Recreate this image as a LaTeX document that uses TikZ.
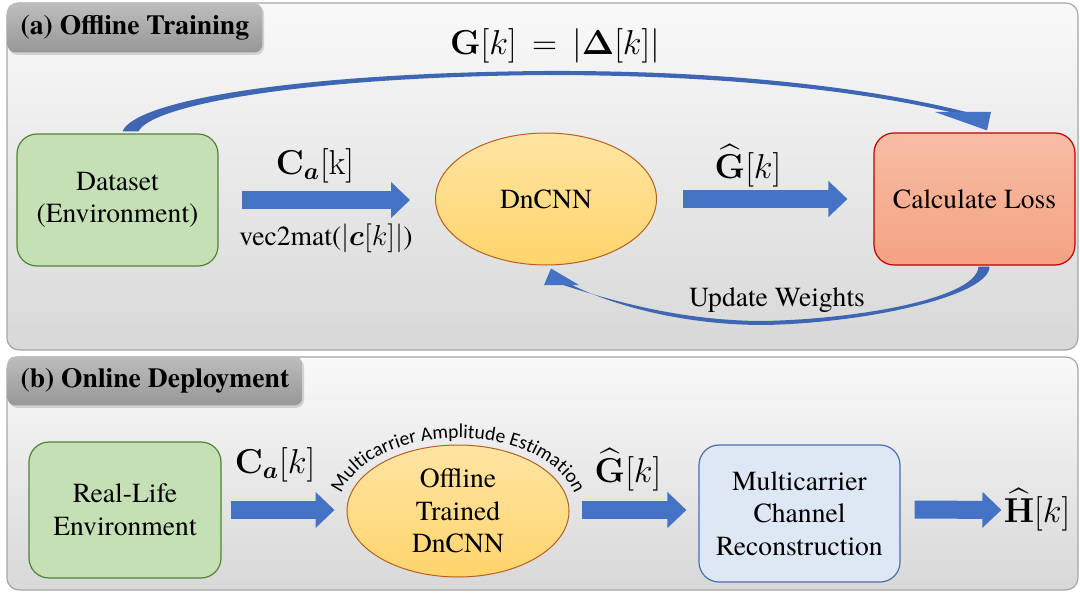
\documentclass[tikz,border=0pt]{standalone}
\usepackage{amsmath,bm}
\usepackage[no-math]{fontspec}
\setmainfont{texgyretermes}[Extension=.otf, UprightFont=*-regular, BoldFont=*-bold,
  ItalicFont=*-italic, BoldItalicFont=*-bolditalic]
\newfontfamily\arcfont{Carlito}
\usetikzlibrary{shapes.geometric,arrows.meta,calc,shadows,decorations.text}

\definecolor{paneltop}{HTML}{F9F9F9}
\definecolor{panelbot}{HTML}{D8D8D8}
\definecolor{panelline}{HTML}{A6A6A6}
\definecolor{tabtop}{HTML}{BDBDBD}
\definecolor{tabbot}{HTML}{979797}
\definecolor{envfill}{HTML}{C5E0B4}
\definecolor{envline}{HTML}{548235}
\definecolor{blobtop}{HTML}{FFE5A3}
\definecolor{blobbot}{HTML}{FFD46C}
\definecolor{blobline}{HTML}{B8601F}
\definecolor{losstop}{HTML}{F7BDA4}
\definecolor{lossbot}{HTML}{F4A283}
\definecolor{lossline}{HTML}{C00000}
\definecolor{recfill}{HTML}{DEE7F4}
\definecolor{recline}{HTML}{4A6FAF}
\definecolor{arrowblue}{HTML}{4472C4}
\definecolor{bendblue}{HTML}{3E66B3}

\tikzset{
  panel/.style={draw=panelline, line width=0.6pt, rounded corners=6pt,
    top color=paneltop, bottom color=panelbot},
  tab/.style={anchor=north west, rounded corners=4pt, top color=tabtop, bottom color=tabbot,
    drop shadow={opacity=0.3, shadow xshift=0.8pt, shadow yshift=-1.2pt},
    minimum height=24.5pt, inner sep=0pt, font=\rmfamily\bfseries\fontsize{13.8}{16}\selectfont},
  box/.style={rounded corners=10pt, line width=0.6pt, align=center, inner sep=0pt,
    minimum width=100.5pt, minimum height=66pt, font=\rmfamily\fontsize{13.8}{16.3}\selectfont},
  blob/.style={ellipse, draw=blobline, line width=0.5pt, top color=blobtop, bottom color=blobbot,
    align=center, inner sep=0pt, minimum width=110.5pt, minimum height=66pt,
    font=\rmfamily\fontsize{13.8}{16.3}\selectfont},
  fatarrow/.style={draw=arrowblue, line width=9pt, -{Triangle[length=9.5pt, width=17.5pt]}},
  mathlbl/.style={inner sep=0pt, font=\fontsize{17}{20}\selectfont},
  txtlbl/.style={inner sep=0pt, font=\rmfamily\fontsize{13.8}{16}\selectfont},
}

\begin{document}
\begin{tikzpicture}[x=0.5pt, y=-0.5pt]
\useasboundingbox (0,0) rectangle (1080,593);

\path[panel] (7,3) rectangle (1078,350);
\path[panel] (7,357) rectangle (1078,590);
\node[tab, minimum width=127.5pt] (taba) at (7,3) {(a) Offline Training};
\node[tab, minimum width=147.5pt] (tabb) at (7,356) {(b) Online Deployment};

% (a) offline training
\node[box, draw=envline, fill=envfill] (ds) at (117.5,200) {Dataset\\(Environment)};
\node[blob] (dn) at (546,199) {DnCNN};
\node[box, draw=lossline, top color=losstop, bottom color=lossbot] (loss) at (974.5,199) {Calculate Loss};

\draw[fatarrow] ($(ds.east)+(23,0)$) -- ($(ds.east -| dn.west)+(-25,0)$);
\draw[fatarrow] ($(dn.east)+(26,0)$) -- ($(dn.east -| loss.west)+(-26,0)$);

\node[mathlbl] (ca) at (315,166) {$\mathbf{C}_{\bm{a}}[\mathrm{k}]$};
\node[txtlbl] (vm) at (326,238) {vec2mat($|\bm{c}[k]|$)};
\node[mathlbl] (gh) at (748,166) {$\widehat{\mathbf{G}}[k]$};
\node[mathlbl] (gk) at (555,46) {$\mathbf{G}[k]\,=\,|\mathbf{\Delta}[k]|$};
\node[txtlbl] (uw) at (777,300) {Update Weights};

\fill[bendblue] ($(ds.north)+(5,-2)$) .. controls (135,100) and (300,73) .. (545,71)
  .. controls (760,70) and (900,95) .. (966,112) -- (950,112)
  .. controls (890,98) and (760,75) .. (545,75)
  .. controls (310,77) and (152,104) .. ($(ds.north)+(21,-2)$) -- cycle;
\fill[arrowblue] (935,112) -- (991,112) -- ($(loss.north)+(12.5,-2)$) -- cycle;

\fill[bendblue] ($(loss.south)+(15,1)$) .. controls (990,295) and (870,323) .. (764,325)
  .. controls (680,325) and (610,304) .. (572,285) -- (563,285)
  .. controls (610,300) and (680,321) .. (764,321)
  .. controls (860,319) and (977,298) .. ($(loss.south)+(4,1)$) -- cycle;
\fill[arrowblue] (544,285) -- (579,285) -- ($(dn.south)+(5,3)$) -- cycle;

% (b) online deployment
\node[box, draw=envline, fill=envfill, minimum width=96pt, minimum height=68pt] (rl) at (125,510) {Real-Life\\Environment};
\node[blob, minimum width=111pt] (dnb) at (458,511) {Offline\\Trained\\DnCNN};
\node[box, draw=recline, fill=recfill, minimum height=68.5pt] (ch) at (799.5,513.5) {Multicarrier\\Channel\\Reconstruction};
\node[mathlbl] (hb) at (1037,510) {$\widehat{\mathbf{H}}[k]$};

\path[decorate, decoration={text along path, text align=center,
    text={|\arcfont\fontsize{9.8}{10}\selectfont|Multicarrier Amplitude Estimation}}]
  ($(dnb.center)+(185:120 and 73)$) arc[start angle=185, end angle=355, x radius=120, y radius=73];

\draw[fatarrow] ($(rl.east)+(9,0)$) -- ($(rl.east -| dnb.west)+(-12,0)$);
\draw[fatarrow] ($(dnb.east)+(12,-1)$) -- ($(dnb.east -| ch.west)+(-12,-1)$);
\draw[fatarrow] ($(ch.east)+(14,-4)$) -- ($(hb.west)+(-2,0)$);

\node[mathlbl] (cab) at (275,465) {$\mathbf{C}_{\bm{a}}[k]$};
\node[mathlbl] (ghb) at (628,470) {$\widehat{\mathbf{G}}[k]$};
\end{tikzpicture}
\end{document}
